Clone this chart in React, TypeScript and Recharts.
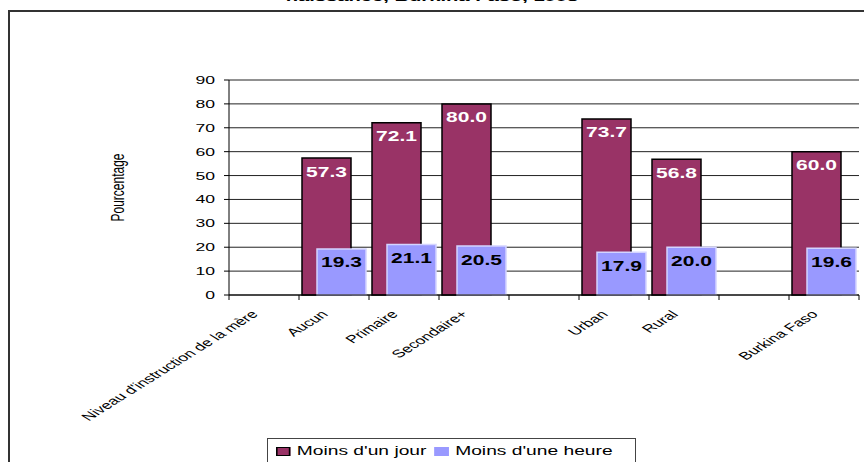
import { Bar, BarChart, CartesianGrid, LabelList, XAxis, YAxis } from 'recharts';

const categories = [
  "Niveau d'instruction de la mère",
  'Aucun',
  'Primaire',
  'Secondaire+',
  ' ',
  'Urban',
  'Rural',
  '  ',
  'Burkina Faso'
];
const moinsDunJour = [null, 57.3, 72.1, 80.0, null, 73.7, 56.8, null, 60.0];
const moinsDuneHeure = [null, 19.3, 21.1, 20.5, null, 17.9, 20.0, null, 19.6];
const yTicks = [0, 10, 20, 30, 40, 50, 60, 70, 80, 90];

const data = categories.map((name, i) => ({
  name,
  jour: moinsDunJour[i],
  heure: moinsDuneHeure[i]
}));

const FONT = 'Arial, "Liberation Sans", sans-serif';
// the original picture is stretched sideways, so text gets the same stretch
const SX = 1.6;
const CHART_W = 864;
const CHART_H = 462;
const Y_AXIS_W = 229;
const RIGHT = 5;
const BAND = (CHART_W - Y_AXIS_W - RIGHT) / categories.length;

const MAROON = '#993366';
const LAVENDER = '#9999FF';

function CategoryTick(props: any) {
  const { x, y, payload, index } = props;
  const half = BAND / 2;
  return (
    <g>
      <line stroke="#000" x1={x - half} x2={x - half} y1={y} y2={y + 5} />
      {index === categories.length - 1 ? (
        <line stroke="#000" x1={x + half} x2={x + half} y1={y} y2={y + 5} />
      ) : null}
      <g transform={`translate(${x - 5} ${y + 20}) scale(${SX} 1) rotate(-45)`}>
        <text fill="#000" fontFamily={FONT} fontSize={11} textAnchor="end">
          {payload.value}
        </text>
      </g>
    </g>
  );
}

function ValueTick(props: any) {
  const { x, y, payload } = props;
  return (
    <g transform={`translate(${x} ${y}) scale(${SX} 1)`}>
      <text dy="0.36em" fill="#000" fontFamily={FONT} fontSize={11} textAnchor="end">
        {payload.value}
      </text>
    </g>
  );
}

function AxisTitle(props: any) {
  const vb = props.viewBox ?? { x: 0, y: 80, height: 215 };
  const cy = vb.y + vb.height / 2;
  return (
    <g transform={`translate(${vb.x + 117} ${cy}) scale(${SX} 1) rotate(-90)`}>
      <text dy="0.35em" fill="#000" fontFamily={FONT} fontSize={12} textAnchor="middle">
        Pourcentage
      </text>
    </g>
  );
}

function makeBarLabel(color: string) {
  return function BarLabel(props: any) {
    const { x, y, width, value } = props;
    if (value == null) return null;
    return (
      <g transform={`translate(${Number(x) + Number(width) / 2} ${Number(y) + 13.5}) scale(1.5 1)`}>
        <text
          dy="0.36em"
          fill={color}
          fontFamily={FONT}
          fontSize={14}
          fontWeight="bold"
          textAnchor="middle"
        >
          {Number(value).toFixed(1)}
        </text>
      </g>
    );
  };
}

function LegendBox() {
  const item = (fill: string, border: string, label: string, gap: number) => (
    <span style={{ display: 'inline-flex', alignItems: 'center', marginLeft: gap }}>
      <span
        style={{
          display: 'inline-block',
          width: 7,
          height: 7,
          background: fill,
          border: `1px solid ${border}`,
          marginRight: 4
        }}
      />
      {label}
    </span>
  );
  return (
    <div
      style={{
        position: 'absolute',
        left: 267,
        top: 438,
        width: 369,
        height: 40,
        border: '1px solid #444',
        background: '#fff',
        boxSizing: 'border-box'
      }}
    >
      <div
        style={{
          position: 'absolute',
          left: 0,
          top: 4,
          whiteSpace: 'nowrap',
          transform: `scaleX(${SX})`,
          transformOrigin: '0 0',
          fontFamily: FONT,
          fontSize: 12,
          lineHeight: '16px',
          color: '#000'
        }}
      >
        {item(MAROON, '#000', "Moins d'un jour", 5)}
        {item(LAVENDER, LAVENDER, "Moins d'une heure", 5)}
      </div>
    </div>
  );
}

export default function App() {
  return (
    <div
      style={{
        position: 'absolute',
        left: 0,
        top: 0,
        width: CHART_W,
        height: CHART_H,
        overflow: 'hidden',
        background: '#fff'
      }}
    >
      {/* the title line is cut off by the top of the picture in the reference */}
      <div
        style={{
          position: 'absolute',
          left: 0,
          top: -11,
          width: CHART_W,
          textAlign: 'center',
          fontFamily: FONT,
          fontSize: 13,
          fontWeight: 'bold',
          lineHeight: '15px',
          transform: `scaleX(${SX * 0.97})`,
          whiteSpace: 'nowrap'
        }}
      >
        naissance, Burkina Faso, 1998
      </div>
      <div
        style={{
          position: 'absolute',
          left: 8,
          top: 10,
          width: 1000,
          height: 1000,
          borderLeft: '2px solid #333',
          borderTop: '2px solid #333'
        }}
      />
      <div style={{ position: 'absolute', left: 0, top: 0 }}>
        <BarChart
          barGap={-34}
          data={data}
          height={CHART_H}
          margin={{ top: 80, right: RIGHT, left: 0, bottom: 0 }}
          width={CHART_W}
        >
          <CartesianGrid stroke="#222" vertical={false} />
          <XAxis
            axisLine={{ stroke: '#000' }}
            dataKey="name"
            height={167}
            interval={0}
            tick={<CategoryTick />}
            tickLine={false}
            tickMargin={0}
            tickSize={0}
          />
          <YAxis
            axisLine={{ stroke: '#000' }}
            domain={[0, 90]}
            label={<AxisTitle />}
            tick={<ValueTick />}
            tickLine={{ stroke: '#000' }}
            tickMargin={9}
            tickSize={5}
            ticks={yTicks}
            width={Y_AXIS_W}
          />
          <YAxis
            axisLine={{ stroke: '#888' }}
            orientation="right"
            tick={false}
            tickLine={false}
            width={0}
            yAxisId="frame"
          />
          <Bar
            barSize={49}
            dataKey="jour"
            fill={MAROON}
            isAnimationActive={false}
            stroke="#000"
            strokeWidth={1.5}
          >
            <LabelList content={makeBarLabel('#fff')} dataKey="jour" />
          </Bar>
          <Bar
            barSize={49}
            dataKey="heure"
            fill={LAVENDER}
            isAnimationActive={false}
            stroke="#d4d4ff"
            strokeWidth={1.5}
          >
            <LabelList content={makeBarLabel('#000')} dataKey="heure" />
          </Bar>
        </BarChart>
      </div>
      <LegendBox />
    </div>
  );
}
